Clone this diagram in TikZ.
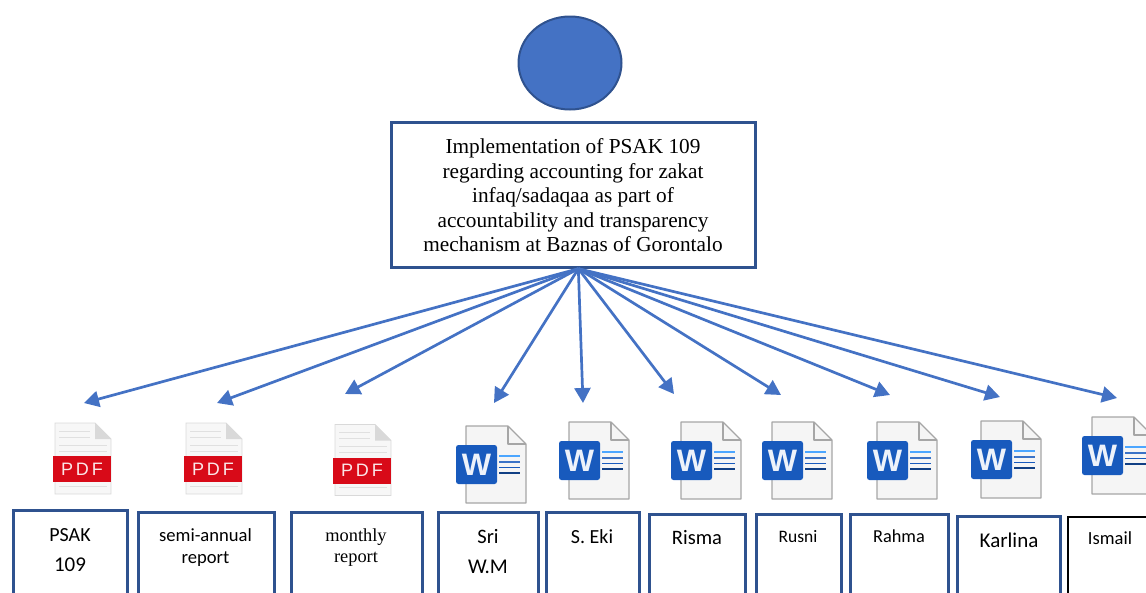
\documentclass[tikz,border=0pt]{standalone}
\usepackage{fontspec}
\setmainfont{Liberation Serif}
\newfontfamily\calfont{Carlito}
\newfontfamily\pdffont{Liberation Sans}
\usetikzlibrary{arrows.meta,calc,shapes.geometric}
\definecolor{accent}{HTML}{4472C4}
\definecolor{edge}{HTML}{2F528F}
\definecolor{wordblue}{HTML}{185ABD}
\definecolor{pdfred}{HTML}{D80A18}
\newcommand{\fsz}[1]{\fontsize{#1}{#1}\selectfont}
\tikzset{
  x=1pt,y=-1pt,
  flow/.style={draw=accent,line width=2.7pt,-{Triangle[length=15pt,width=16pt]}},
  docbox/.style={draw=edge,line width=2.7pt,fill=white,anchor=north west,inner sep=0pt,minimum height=110pt},
  blackbox/.style={docbox,draw=black,line width=2.2pt},
  cali/.style={font=\calfont\fsz{#1},inner sep=0pt,anchor=base},
  times/.style={font=\fsz{#1},inner sep=0pt,anchor=base},
  pics/pdficon/.style={code={
    \fill[black!3] (2,0) -- (42,0) -- (58,16) -- (58,71) -- (2,71) -- cycle;
    \draw[black!15,line width=0.8pt] (2,0) -- (42,0) -- (58,16) -- (58,71) -- (2,71) -- cycle;
    \fill[black!15] (42,0) -- (58,16) -- (42,16) -- cycle;
    \foreach \yy in {8,14}{\draw[black!12,line width=0.7pt] (6,\yy) -- (37,\yy);}
    \foreach \yy in {22,28}{\draw[black!12,line width=0.7pt] (6,\yy) -- (54,\yy);}
    \draw[black!12,line width=0.7pt] (6,63) -- (54,63);
    \fill[pdfred] (0,33) rectangle (58,59);
    \node[font=\pdffont\fsz{18},text=white!90!pdfred,inner sep=0pt] (lbl) at (29,46) {P\hspace{3pt}D\hspace{3pt}F};
  }},
  pics/wordicon/.style={code={
    \fill[black!4] (0,0) -- (42,0) -- (60,18) -- (60,77) -- (0,77) -- cycle;
    \draw[black!35,line width=1.1pt,line join=round] (0,0) -- (42,0) -- (60,18) -- (60,77) -- (0,77) -- cycle;
    \draw[black!35,line width=1.1pt,line join=round] (42,0) -- (42,18) -- (60,18);
    \draw[color=blue!50!cyan!70!white,line width=1.3pt] (33,30) -- (54,30);
    \draw[color=wordblue!85!white,line width=1.3pt] (33,36) -- (54,36);
    \draw[color=wordblue,line width=1.3pt] (33,41.5) -- (54,41.5);
    \draw[color=wordblue!70!black,line width=1.5pt] (33,47) -- (54,47);
    \fill[wordblue,rounded corners=2.5pt] (-10,19) rectangle (31,58);
    \node[font=\pdffont\bfseries\fsz{31},text=white!92!wordblue,inner sep=0pt] (lbl) at (10.5,38.5) {W};
  }}
}
\begin{document}
\begin{tikzpicture}
\useasboundingbox (0,0) rectangle (1146,592);
\clip (0,0) rectangle (1146,592);

\node[ellipse,draw=edge,fill=accent,line width=2pt,minimum width=103pt,minimum height=93pt,inner sep=0pt] (top) at (570,63) {};
\node[draw=edge,line width=2.7pt,anchor=north west,minimum width=364pt,minimum height=145pt,inner sep=0pt] (main) at (390,121) {};
\node[font=\fontsize{21.3}{24.5}\selectfont,inner sep=0pt,align=center,anchor=center] (maintext) at (573,195.5) {%
  Implementation of PSAK 109\\
  regarding accounting for zakat\\
  infaq/sadaqaa as part of\\
  accountability and transparency\\
  mechanism at Baznas of Gorontalo};

\coordinate (hub) at ($(main.south)+(5,0)$);
\coordinate (t1) at (84,403);
\coordinate (t2) at (217,403);
\coordinate (t3) at (345,394);
\coordinate (t4) at (494,403);
\coordinate (t5) at (583,403);
\coordinate (t6) at (674,394);
\coordinate (t7) at (781,395);
\coordinate (t8) at (890,395);
\coordinate (t9) at (1000,397);
\coordinate (t10) at (1117,398);
\foreach \t in {t1,t2,t3,t4,t5,t6,t7,t8,t9,t10}{\draw[flow] (hub) -- (\t);}

\pic (i1) at (53,423) {pdficon};
\pic (i2) at (184,423) {pdficon};
\pic (i3) at (333,424.5) {pdficon};
\pic (i4) at (466,426) {wordicon};
\pic (i5) at (569,422) {wordicon};
\pic (i6) at (681,422) {wordicon};
\pic (i7) at (772,422) {wordicon};
\pic (i8) at (877,422) {wordicon};
\pic (i9) at (981,421) {wordicon};
\pic (i10) at (1092,417) {wordicon};

\node[docbox,minimum width=114pt] (b1) at (12,509) {};
\node[docbox,minimum width=136pt] (b2) at (137,511) {};
\node[docbox,minimum width=131pt] (b3) at (290,511) {};
\node[docbox,minimum width=100pt] (b4) at (437,511) {};
\node[docbox,minimum width=93pt] (b5) at (545,511) {};
\node[docbox,minimum width=96pt] (b6) at (648,513) {};
\node[docbox,minimum width=85pt] (b7) at (755,513) {};
\node[docbox,minimum width=98pt] (b8) at (849,513) {};
\node[docbox,minimum width=103pt] (b9) at (956,515) {};
\node[blackbox,minimum width=110pt] (b10) at (1067,516) {};

\node[cali=20] (l1a) at (70,541) {PSAK};
\node[cali=21] (l1b) at (70,571) {109};
\node[cali=18.6] (l2a) at (205.5,541) {semi-annual};
\node[cali=18.6] (l2b) at (205.5,563) {report};
\node[times=18.4] (l3a) at (356,541) {monthly};
\node[times=18.4] (l3b) at (356,562) {report};
\node[cali=20.5] (l4a) at (488,543) {Sri};
\node[cali=21] (l4b) at (488,573) {W.M};
\node[cali=20] (l5) at (592,543) {S. Eki};
\node[cali=20.5] (l6) at (697,544) {Risma};
\node[cali=17.5] (l7) at (798,542) {Rusni};
\node[cali=18.3] (l8) at (899,542) {Rahma};
\node[cali=21] (l9) at (1009,547) {Karlina};
\node[cali=18.5] (l10) at (1110,544) {Ismail};
\end{tikzpicture}
\end{document}
